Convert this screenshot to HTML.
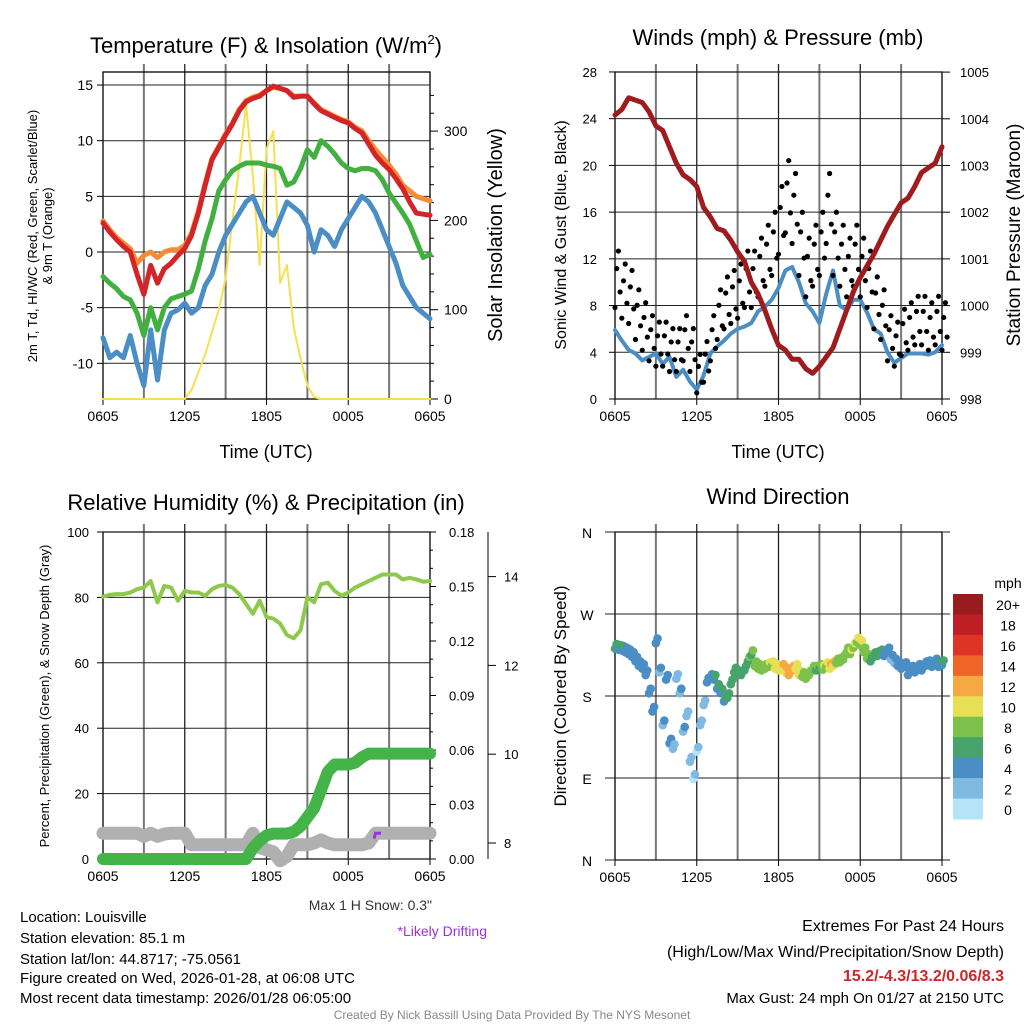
<!DOCTYPE html>
<html><head><meta charset="utf-8"><style>
body{margin:0;background:#fff;width:1024px;height:1024px;overflow:hidden}
svg{font-family:"Liberation Sans",sans-serif}
</style></head><body>
<svg id="c" width="1024" height="1024" xmlns="http://www.w3.org/2000/svg"></svg>
<script>
// ---- data (hours since 0605; each series spread evenly across 24h) ----
const xTickLabels = ["0605","1205","1805","0005","0605"];
const tempRed = [2.6,1.8,1.1,0.5,0,-2,-3.8,-1.2,-2.8,-1.5,-1,-0.3,0.3,1.5,3.5,6,8.3,9.4,10.5,11.5,12.7,13.5,13.8,14,14.5,14.9,14.7,14.5,13.9,14,14,13.3,12.7,12.4,12.1,11.8,11.6,11.1,10.7,9.7,8.7,8,7.4,6.6,5.7,4.5,3.5,3.4,3.3];
const temp9m = [2.8,2,1.3,0.8,0.3,-1,-0.3,0,-0.5,0,0.2,0.2,0.6,1.7,3.7,6.2,8.4,9.5,10.6,11.6,12.8,13.6,13.9,14.1,14.5,14.8,14.7,14.5,14,14,14,13.4,12.8,12.5,12.2,11.9,11.7,11.2,10.9,10,9.2,8.5,7.8,7,6,5.5,5,4.8,4.6];
const dewGreen = [-2.2,-2.8,-3.3,-4,-4.3,-5.5,-7.5,-5,-7,-5,-4.2,-4,-3.8,-3.5,-1.5,1,3,5.5,6.5,7.3,7.7,8,8,8,7.8,7.7,7.5,6,6.3,7.5,9.2,8.5,10,9.5,8.8,8,7.5,7.3,7.5,7.5,7.3,6.5,5.3,4.4,3.5,2.5,1,-0.5,-0.2];
const chillBlue = [-7.7,-9.5,-9,-9.5,-7.5,-10,-12,-7,-11.5,-7,-5.5,-5.2,-4.6,-5.5,-5,-3,-2,0,1.5,2.5,3.5,4.5,5,3.5,2,1.5,3,4.5,4,3.5,2.4,0,2,1.5,0.5,2,3,4,5,4.5,3.5,2,0.5,-1,-3,-4,-5,-5.5,-6];
const insolation = [0,0,0,0,0,0,0,0,0,0,0,0,0,10,30,50,75,100,135,200,260,330,250,150,280,300,130,150,80,45,15,2,0,0,0,0,0,0,0,0,0,0,0,0,0,0,0,0,0];
const windSpeed = [5.9,5,4.2,3.9,3.3,3.6,3.9,3,3.6,1.9,2.5,1.5,0.8,2,3.9,4.5,5,5.6,6,6.2,6.5,7.5,7.9,8.5,9.5,11,11.3,10,8.2,7.5,6.5,9,11,8,7.6,8.5,8.5,7.4,6,5.6,4,3.1,3.5,3.9,3.9,3.9,3.8,4.0,4.6];
const gustSpeed = [10,9,8.5,7,6,5,4.5,4.5,4,4,5,4,2,3,5,7,8,8.5,9,10,10,11,12,13,15,17,16,13,11,12,13,16,13,12,11,12,11,10,8,7,5,4.5,5.5,6,6.5,6.5,6,6.5,6];
const pressure = [1004.08,1004.2,1004.45,1004.4,1004.35,1004.15,1003.85,1003.75,1003.4,1003.05,1002.8,1002.7,1002.55,1002.1,1001.9,1001.65,1001.6,1001.4,1001.15,1000.95,1000.5,1000.25,999.9,999.5,999.15,999.05,998.85,998.85,998.65,998.55,998.7,998.9,999.1,999.5,999.9,1000.3,1000.6,1000.85,1001.1,1001.4,1001.7,1001.95,1002.2,1002.3,1002.55,1002.85,1002.95,1003.05,1003.4];
const rhPct = [80.2,80.8,81,81,81.5,82.5,83,85,78.5,83.5,83,79,82,81.5,81.5,80.5,82.5,83.5,83.8,83,81,78,75,79,74,73.5,72,68.5,67.5,70,80,78.5,84,84.5,82,80.5,81.5,83,84,85,86,87,87,87,85.5,86,85.5,84.8,85];
const precipIn = [0,0,0,0,0,0,0,0,0,0,0,0,0,0,0,0,0,0,0,0,0,0,0.006,0.01,0.013,0.014,0.014,0.014,0.015,0.018,0.023,0.028,0.038,0.048,0.052,0.052,0.052,0.053,0.056,0.058,0.058,0.058,0.058,0.058,0.058,0.058,0.058,0.058,0.058];
const snowDepth = [8.22,8.22,8.22,8.22,8.22,8.22,8.15,8.22,8.15,8.2,8.22,8.22,8.22,7.96,7.96,7.96,7.96,7.96,7.96,7.96,7.96,7.96,8.22,7.9,7.85,7.8,7.6,7.7,7.96,7.96,7.96,8.0,8.07,8.0,7.96,7.96,7.96,7.96,7.96,8.0,8.22,8.22,8.22,8.22,8.22,8.22,8.22,8.22,8.22];
const windDir = [234,233,232,230,228,225,220,215,212,205,185,165,240,208,150,200,130,124,201,185,143,160,110,91,121,150,172,197,201,200,190,185,176,180,195,208,205,205,210,220,227,215,212,210,212,214,215,212,210,212,208,205,210,212,205,203,201,205,210,210,212,211,214,212,215,218,219,222,230,228,235,241,238,230,223,220,225,226,228,226,230,222,218,215,212,214,205,210,208,212,210,215,216,214,218,214,216];
const cbLabels = ["20+","18","16","14","12","10","8","6","4","2","0"];
const cbColors = ["#981b1e","#be1e24","#dd3426","#ef6428","#f6a843","#e7e054","#7cc14a","#47a36c","#4a8ec5","#7fbae3","#b5e3f7"];

const svg=document.getElementById('c');
const NS='http://www.w3.org/2000/svg';
function el(tag,attrs,parent){const e=document.createElementNS(NS,tag);for(const k in attrs)e.setAttribute(k,attrs[k]);(parent||svg).appendChild(e);return e;}
function txt(x,y,s,size,anchor,extra){const t=el('text',Object.assign({x:x,y:y,'font-size':size,'text-anchor':anchor||'middle',fill:'#000'},extra||{}));t.textContent=s;return t;}
function hrs(arr){return arr.map((_,i)=>i*24/(arr.length-1));}

function panel(x0,x1,y0,y1,name){
  const g=el('g',{});
  
  
  const w=(x1-x0)/8;
  for(let i=1;i<8;i++){const x=x0+i*w;el('line',{x1:x,y1:y0-8,x2:x,y2:y1,stroke:i%2?'#777':'#222','stroke-width':i%2?2:1.3},g);}
  el('rect',{x:x0,y:y0,width:x1-x0,height:y1-y0,fill:'none',stroke:'#000','stroke-width':1.3},g);
  for(let i=0;i<5;i++){const x=x0+i*2*w;const t=txt(x,y1+22,xTickLabels[i],14);
    el('line',{x1:x,y1:y1,x2:x,y2:y1+6,stroke:'#000'},g);}
}
function line(xs,ys,color,w,name){const p=el('polyline',{points:xs.map((x,i)=>x+','+ys[i]).join(' '),fill:'none',stroke:color,'stroke-width':w,'stroke-linejoin':'round','stroke-linecap':'round'});
  return p;}

// ===== Panel 1 =====
{const X0=103,X1=430,Y0=72,Y1=399;
 const sx=h=>X0+h/24*(X1-X0);
 const sy=v=>252-v*11.13;
 const sr=v=>399-v*0.893;
 panel(X0,X1,Y0,Y1,'temperature');
 [15,10,5,0,-5,-10].forEach(v=>{el('line',{x1:X0,y1:sy(v),x2:X1,y2:sy(v),stroke:'#222','stroke-width':1});el('line',{x1:X0-6,y1:sy(v),x2:X0,y2:sy(v),stroke:'#000'});
   const t=txt(X0-10,sy(v)+5,String(v),14,'end');});
 [0,100,200,300].forEach(v=>{el('line',{x1:X1,y1:sr(v),x2:X1+8,y2:sr(v),stroke:'#000'});const t=txt(X1+14,sr(v)+5,String(v),14,'start');});
 for(let v=20;v<360;v+=20)if(v%100){el('line',{x1:X1,y1:sr(v),x2:X1+4,y2:sr(v),stroke:'#000'});}
 line(hrs(insolation).map(sx),insolation.map(sr),'#f7e04f',2,'insolation-line');
 line(hrs(chillBlue).map(sx),chillBlue.map(sy),'#4a8ec5',5,'windchill-line');
 line(hrs(dewGreen).map(sx),dewGreen.map(sy),'#42b040',5,'dewpoint-line');
 line(hrs(temp9m).map(sx),temp9m.map(sy),'#f58b35',5,'temp-9m-line');
 line(hrs(tempRed).map(sx),tempRed.map(sy),'#d32428',5,'temp-2m-line');
 let t=txt(266,53,'Temperature (F) & Insolation (W/m',22);
 const ts=el('tspan',{'font-size':13,dy:-9});ts.textContent='2';t.appendChild(ts);const ts2=el('tspan',{dy:9});ts2.textContent=')';t.appendChild(ts2);
 t=txt(266,458,'Time (UTC)',18);
 t=txt(0,0,'',13,'middle',{transform:'translate(37,236) rotate(-90)'});
 t.textContent='2m T, Td, HI/WC (Red, Green, Scarlet/Blue)';
 t=txt(0,0,'& 9m T (Orange)',13,'middle',{transform:'translate(52,236) rotate(-90)'});
 t=txt(0,0,'Solar Insolation (Yellow)',20,'middle',{transform:'translate(502,235) rotate(-90)'});
}
// ===== Panel 2 =====
{const X0=615,X1=942,Y0=72,Y1=399;
 const sx=h=>X0+h/24*(X1-X0);
 const sy=v=>399-v*11.68;
 const sp=v=>399-(v-998)*46.7;
 panel(X0,X1,Y0,Y1,'winds');
 [0,4,8,12,16,20,24,28].forEach(v=>{el('line',{x1:X0,y1:sy(v),x2:X1,y2:sy(v),stroke:'#222'});el('line',{x1:X0-6,y1:sy(v),x2:X0,y2:sy(v),stroke:'#000'});
   const t=txt(X0-18,sy(v)+5,String(v),13,'end');});
 [998,999,1000,1001,1002,1003,1004,1005].forEach(v=>{el('line',{x1:X1,y1:sp(v),x2:X1+8,y2:sp(v),stroke:'#000'});const t=txt(X1+18,sp(v)+5,String(v),13,'start');});
 line(hrs(windSpeed).map(sx),windSpeed.map(sy),'#4a8ec5',4,'sonic-wind-line');
 const jit=[-1.3,0.7,1.6,-0.5];
 const gh=hrs(gustSpeed);
 gustSpeed.forEach((v,i)=>{jit.forEach((o,k)=>{const c=el('circle',{cx:sx(gh[i]+k*0.125),cy:sy(v+o*(1+v/15)),r:2.6,fill:'#000'});});});
 line(hrs(pressure).map(sx),pressure.map(sp),'#9e1b1e',5,'pressure-line');
 let t=txt(778,45,'Winds (mph) & Pressure (mb)',22);
 t=txt(778,458,'Time (UTC)',18);
 t=txt(0,0,'Sonic Wind & Gust (Blue, Black)',16,'middle',{transform:'translate(566,235) rotate(-90)'});
 t=txt(0,0,'Station Pressure (Maroon)',19,'middle',{transform:'translate(1020,235) rotate(-90)'});
}
// ===== Panel 3 =====
{const X0=103,X1=430,Y0=532,Y1=859;
 const sx=h=>X0+h/24*(X1-X0);
 const sy=v=>859-v*3.27;
 const sPr=v=>859-v/0.18*327;
 const sS=v=>843-(v-8)*44.4;
 panel(X0,X1,Y0,Y1,'humidity');
 [0,20,40,60,80,100].forEach(v=>{el('line',{x1:X0,y1:sy(v),x2:X1,y2:sy(v),stroke:'#222'});el('line',{x1:X0-6,y1:sy(v),x2:X0,y2:sy(v),stroke:'#000'});
   const t=txt(X0-14,sy(v)+5,String(v),13,'end');});
 ['0.00','0.03','0.06','0.09','0.12','0.15','0.18'].forEach(s=>{const y=sPr(+s);el('line',{x1:X1,y1:y,x2:X1+6,y2:y,stroke:'#000'});const t=txt(X1+19,y+5,s,13,'start');});
 for(let k=1;k<18;k++)if(k%3){const y=sPr(k*0.01);el('line',{x1:X1,y1:y,x2:X1+3,y2:y,stroke:'#000'});}
 el('line',{x1:488,y1:532,x2:488,y2:859,stroke:'#000'});
 [8,10,12,14].forEach(v=>{el('line',{x1:488,y1:sS(v),x2:496,y2:sS(v),stroke:'#000'});const t=txt(504,sS(v)+5,String(v),13,'start');});
 line(hrs(snowDepth).map(sx),snowDepth.map(sS),'#b0b0b0',13,'snow-depth-line');
 line(hrs(precipIn).map(sx),precipIn.map(sPr),'#44b448',12,'precip-line');
 line(hrs(rhPct).map(sx),rhPct.map(sy),'#8dc94a',4,'rh-line');
 const d=el('polyline',{points:sx(19.9)+','+(sS(8.1))+' '+sx(20.0)+','+(sS(8.22))+' '+sx(20.4)+','+sS(8.22),fill:'none',stroke:'#9b30e8','stroke-width':3});
 let t=txt(266,510,'Relative Humidity (%) & Precipitation (in)',22);
 t=txt(0,0,'Percent, Precipitation (Green), & Snow Depth (Gray)',13,'middle',{transform:'translate(49,696) rotate(-90)'});
 t=txt(432,910,'Max 1 H Snow: 0.3"',14,'end',{fill:'#333'});
 t=txt(487,936,'*Likely Drifting',14,'end',{fill:'#9b30e8'});
}
// ===== Panel 4 =====
{const X0=615,X1=942,Y0=532,Y1=860;
 const sx=h=>X0+h/24*(X1-X0);
 const sy=v=>860-v/360*328;
 panel(X0,X1,Y0,Y1,'wind-direction');
 [['N',0],['E',90],['S',180],['W',270],['N',360]].forEach(([s,v])=>{el('line',{x1:X0-10,y1:sy(v),x2:X1+8,y2:sy(v),stroke:'#222'});const t=txt(X0-28,sy(v)+6,s,14,'middle');});
 const dh=hrs(windDir);
 windDir.forEach((v,i)=>{const si=Math.min(windSpeed.length-1,Math.round(dh[i]*2));[0,1].forEach(k=>{const sp=windSpeed[si]+(k?0.6:-0.3);const ci=Math.max(0,Math.min(10,10-Math.round(sp/2)));
   const c=el('circle',{cx:sx(dh[i]+k*0.12),cy:sy(v+(k?3:-2)),r:4.3,fill:cbColors[ci]});});});
 let t=txt(778,504,'Wind Direction',22);
 t=txt(0,0,'Direction (Colored By Speed)',17,'middle',{transform:'translate(566,696) rotate(-90)'});
 const h=(819-594)/11;
 cbColors.forEach((c,i)=>{const r=el('rect',{x:953,y:594+i*h,width:30,height:h+0.5,fill:c});
   const tt=txt(1008,594+i*h+h/2+6,cbLabels[i],14);});
 t=txt(1008,588,'mph',14);
}
// ===== footer =====
[['Location: Louisville',922],['Station elevation: 85.1 m',943],['Station lat/lon: 44.8717; -75.0561',964],['Figure created on Wed, 2026-01-28, at 06:08 UTC',983],['Most recent data timestamp: 2026/01/28 06:05:00',1003]].forEach(([s,y])=>{const t=txt(20,y,s,15,'start');});
let f=txt(1004,931,'Extremes For Past 24 Hours',16,'end');
f=txt(1004,957,'(High/Low/Max Wind/Precipitation/Snow Depth)',16,'end');
f=txt(1004,981,'15.2/-4.3/13.2/0.06/8.3',16,'end',{fill:'#d32428','font-weight':'bold'});
f=txt(1004,1003,'Max Gust: 24 mph On 01/27 at 2150 UTC',15,'end');
f=txt(512,1019,'Created By Nick Bassill Using Data Provided By The NYS Mesonet',12,'middle',{fill:'#888'});
</script>
</body></html>
